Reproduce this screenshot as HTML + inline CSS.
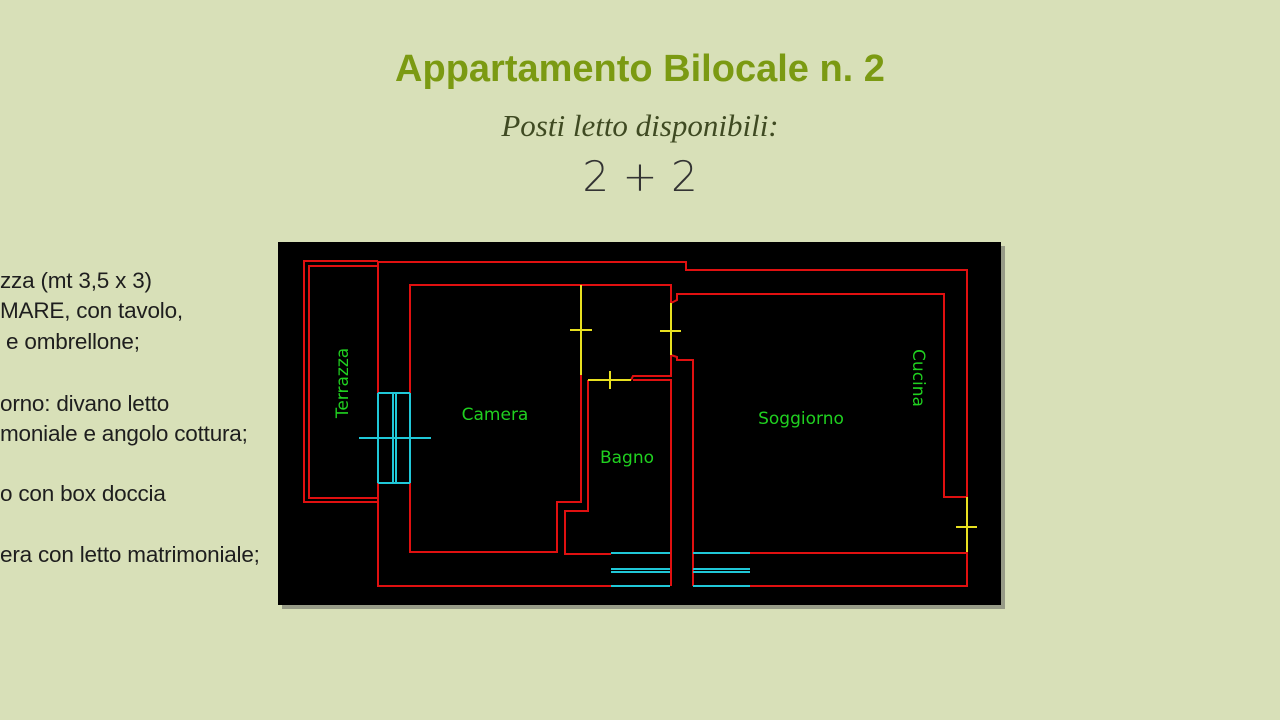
<!DOCTYPE html>
<html><head><meta charset="utf-8"><style>
body{margin:0;width:1280px;height:720px;background:#d8e0b8;overflow:hidden;position:relative;font-family:"Liberation Sans",sans-serif}
.t{position:absolute;left:0;width:1280px;text-align:center}
.l{position:absolute;left:0;font-size:22.5px;color:#1e1e1e;white-space:nowrap;line-height:24px;letter-spacing:-0.2px}
</style></head><body>
<div class="t" style="top:48px;font-size:38px;font-weight:bold;color:#7b9a12;letter-spacing:0px">Appartamento Bilocale n. 2</div>
<div class="t" style="top:108px;font-size:31px;font-style:italic;color:#3f4a22;font-family:'Liberation Serif',serif">Posti letto disponibili:</div>
<div class="t" style="top:152px;font-size:42px;color:#333;font-family:'DejaVu Sans',sans-serif;font-weight:200">2 + 2</div>
<div class="l" style="top:269px">zza (mt 3,5 x 3)</div>
<div class="l" style="top:299px">MARE, con tavolo,</div>
<div class="l" style="top:330px">&nbsp;e ombrellone;</div>
<div class="l" style="top:392px">orno: divano letto</div>
<div class="l" style="top:422px">moniale e angolo cottura;</div>
<div class="l" style="top:482px">o con box doccia</div>
<div class="l" style="top:543px">era con letto matrimoniale;</div>
<svg width="1280" height="720" style="position:absolute;left:0;top:0">
<rect x="282" y="246" width="723" height="363" fill="#555" opacity=".5"/>
<rect x="278" y="242" width="723" height="363" fill="#000"/>
<g fill="none" stroke="#e01010" stroke-width="2">
<polyline points="378,261 304,261 304,502 378,502"/>
<polyline points="378,266 309,266 309,498 378,498"/>
<polyline points="378,393 378,262 686,262 686,270 967,270 967,497"/>
<polyline points="967,552 967,586 750,586"/>
<polyline points="611,586 378,586 378,483"/>
<polyline points="410,393 410,285 671,285 671,303"/>
<polyline points="410,483 410,552 557,552 557,502 581,502 581,375"/>
<polyline points="588,380 588,511 565,511 565,554 611,554"/>
<polyline points="633,380 671,380 671,586"/>
<polyline points="631,380 633,376 671,376 671,355 677,357 677,360 693,360 693,586"/>
<polyline points="671,303 677,300 677,294 944,294 944,497 967,497"/>
<polyline points="750,553 967,553"/>
</g>
<g stroke="#e8e020" stroke-width="2">
<line x1="581" y1="285" x2="581" y2="375"/><line x1="570" y1="330" x2="592" y2="330"/>
<line x1="588" y1="380" x2="631" y2="380"/><line x1="610" y1="371" x2="610" y2="389"/>
<line x1="671" y1="303" x2="671" y2="355"/><line x1="660" y1="331" x2="681" y2="331"/>
<line x1="967" y1="497" x2="967" y2="552"/><line x1="956" y1="527" x2="977" y2="527"/>
</g>
<g stroke="#20c8d8" stroke-width="2">
<line x1="378" y1="393" x2="378" y2="483"/><line x1="393" y1="393" x2="393" y2="483"/><line x1="396" y1="393" x2="396" y2="483"/><line x1="410" y1="393" x2="410" y2="483"/>
<line x1="378" y1="393" x2="410" y2="393"/><line x1="378" y1="483" x2="410" y2="483"/>
<line x1="359" y1="438" x2="431" y2="438"/>
<line x1="611" y1="553" x2="670" y2="553"/><line x1="611" y1="569" x2="670" y2="569"/><line x1="611" y1="572" x2="670" y2="572"/><line x1="611" y1="586" x2="670" y2="586"/>
<line x1="693" y1="553" x2="750" y2="553"/><line x1="693" y1="569" x2="750" y2="569"/><line x1="693" y1="572" x2="750" y2="572"/><line x1="693" y1="586" x2="750" y2="586"/>
</g>
<g fill="#20d020" font-family="DejaVu Sans,sans-serif" font-size="17" text-anchor="middle">
<text x="495" y="420">Camera</text>
<text x="627" y="463">Bagno</text>
<text x="801" y="424">Soggiorno</text>
<text transform="translate(348,383) rotate(-90)">Terrazza</text>
<text transform="translate(913,378) rotate(90)">Cucina</text>
</g>
</svg>
</body></html>
